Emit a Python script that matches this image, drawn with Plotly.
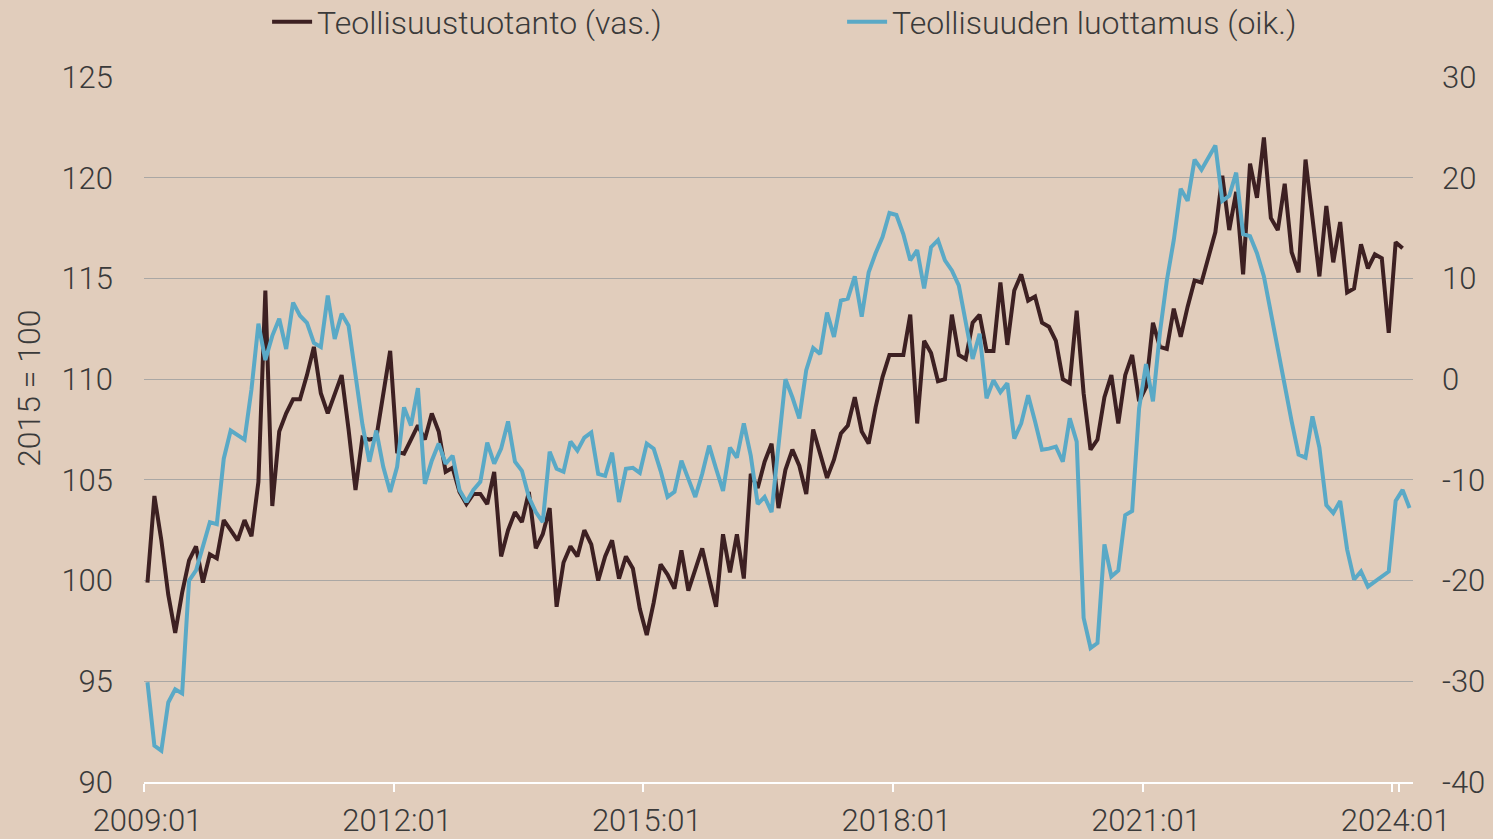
import plotly.graph_objects as go

# ---- categories: monthly, 2009:01 .. 2024:03 ----
first_year = 2009
n_months = 183
months = [f"{first_year + k // 12}:{k % 12 + 1:02d}" for k in range(n_months)]

# Teollisuustuotanto, 2015 = 100 (left axis); last month not yet published
teollisuustuotanto = [
    99.9, 104.2, 102.0, 99.3, 97.4, 99.4, 101.0, 101.7, 99.9, 101.3, 101.1, 103.0,
    102.5, 102.0, 103.0, 102.2, 104.9, 114.4, 103.7, 107.4, 108.3, 109.0, 109.0, 110.2,
    111.6, 109.3, 108.3, 109.3, 110.2, 107.5, 104.5, 107.1, 107.0, 107.1, 109.3, 111.4,
    106.4, 106.3, 107.0, 107.7, 107.0, 108.3, 107.4, 105.4, 105.6, 104.4, 103.8, 104.3,
    104.3, 103.8, 105.4, 101.2, 102.5, 103.4, 102.9, 104.4, 101.6, 102.3, 103.6, 98.7,
    100.9, 101.7, 101.2, 102.5, 101.8, 100.0, 101.2, 102.0, 100.1, 101.2, 100.6, 98.6,
    97.3, 98.9, 100.8, 100.3, 99.6, 101.5, 99.5, 100.5, 101.6, 100.1, 98.7, 102.3,
    100.4, 102.3, 100.1, 105.3, 104.6, 105.9, 106.8, 103.6, 105.5, 106.5, 105.7, 104.3,
    107.5, 106.3, 105.1, 106.0, 107.3, 107.7, 109.1, 107.4, 106.8, 108.6, 110.1, 111.2,
    111.2, 111.2, 113.2, 107.8, 111.9, 111.3, 109.9, 110.0, 113.2, 111.2, 111.0, 112.8,
    113.2, 111.4, 111.4, 114.8, 111.7, 114.4, 115.2, 113.9, 114.1, 112.8, 112.6, 111.9,
    110.0, 109.8, 113.4, 109.3, 106.5, 107.0, 109.1, 110.2, 107.8, 110.2, 111.2, 108.9,
    109.6, 112.8, 111.6, 111.5, 113.5, 112.1, 113.6, 114.9, 114.8, 116.1, 117.3, 120.1,
    117.4, 119.3, 115.2, 120.7, 119.0, 122.0, 118.0, 117.4, 119.7, 116.3, 115.3, 120.9,
    117.9, 115.1, 118.6, 115.8, 117.8, 114.3, 114.5, 116.7, 115.5, 116.2, 116.0, 112.3,
    116.8, 116.5, None,
]

# Teollisuuden luottamus, saldoluku (right axis)
teollisuuden_luottamus = [
    -30.1, -36.4, -36.9, -32.1, -30.8, -31.2, -20.0, -19.0, -16.6, -14.2, -14.4, -7.9,
    -5.1, -5.5, -6.0, -1.0, 5.5, 1.9, 4.3, 6.0, 3.0, 7.6, 6.3, 5.6,
    3.6, 3.2, 8.3, 4.0, 6.5, 5.3, 0.5, -4.5, -8.2, -5.1, -8.7, -11.2,
    -8.7, -2.8, -4.6, -0.9, -10.4, -8.1, -6.4, -8.4, -7.6, -11.0, -12.2, -11.0,
    -10.2, -6.3, -8.4, -6.9, -4.2, -8.2, -9.1, -11.7, -13.2, -14.2, -7.2, -8.9,
    -9.2, -6.2, -7.1, -5.8, -5.3, -9.4, -9.6, -7.3, -12.2, -8.9, -8.8, -9.3,
    -6.4, -6.9, -9.1, -11.7, -11.2, -8.1, -9.9, -11.7, -9.4, -6.6, -8.9, -11.1,
    -6.8, -7.8, -4.4, -7.6, -12.4, -11.7, -13.2, -7.0, 0.0, -1.8, -3.9, 0.9,
    3.1, 2.5, 6.6, 4.2, 7.8, 8.0, 10.2, 6.2, 10.6, 12.5, 14.1, 16.5,
    16.3, 14.4, 11.8, 12.8, 9.0, 13.1, 13.8, 11.8, 10.8, 9.3, 5.5, 2.0,
    4.5, -1.9, -0.1, -1.3, -0.4, -5.9, -4.4, -1.6, -4.2, -7.0, -6.9, -6.7,
    -8.2, -3.9, -6.2, -23.7, -26.7, -26.2, -16.4, -19.6, -19.0, -13.5, -13.1, -2.9,
    1.5, -2.2, 4.6, 9.8, 13.8, 18.9, 17.7, 21.8, 20.8, 22.0, 23.2, 17.7,
    18.2, 20.5, 14.4, 14.2, 12.5, 10.2, 6.5, 2.9, -0.4, -4.2, -7.5, -7.8,
    -3.7, -6.8, -12.5, -13.3, -12.1, -16.9, -19.9, -19.1, -20.6, -20.1, -19.6, -19.1,
    -12.1, -11.0, -12.8,
]

x_tick_labels = ["2009:01", "2012:01", "2015:01", "2018:01", "2021:01", "2024:01"]
left_ticks = [90, 95, 100, 105, 110, 115, 120, 125]
right_ticks = [-40, -30, -20, -10, 0, 10, 20, 30]
right_tick_labels = ["-40", "-30", "-20", "-10", "0", "10", "20", "30"]
left_title = "2015 = 100"

BG = "#E1CDBC"
BROWN = "#3D2022"
BLUE = "#5AA9C6"
TEXT = "#3A3A3A"
GRID = "#AAA7A4"
FONT = "Roboto"
TICK_SIZE = 31
LABEL_SIZE = 32

fig = go.Figure()
fig.add_trace(go.Scatter(
    x=months, y=teollisuustuotanto, name="Teollisuustuotanto (vas.)",
    mode="lines", line=dict(color=BROWN, width=4), yaxis="y",
))
fig.add_trace(go.Scatter(
    x=months, y=teollisuuden_luottamus, name="Teollisuuden luottamus (oik.)",
    mode="lines", line=dict(color=BLUE, width=4), yaxis="y2",
))

tick_font = dict(size=TICK_SIZE, color=TEXT, family=FONT, weight=300)
label_font = dict(size=LABEL_SIZE, color=TEXT, family=FONT, weight=300)

fig.update_layout(
    width=1493, height=839,
    paper_bgcolor=BG, plot_bgcolor=BG,
    margin=dict(l=144, r=80, t=77, b=57, autoexpand=False),
    font=tick_font,
    showlegend=True,
    legend=dict(
        orientation="h", x=0.097, xanchor="left", y=1.078, yanchor="middle",
        bgcolor="rgba(0,0,0,0)", font=label_font,
        entrywidth=520, entrywidthmode="pixels", itemwidth=40,
    ),
    xaxis=dict(
        type="category", categoryorder="array", categoryarray=months,
        range=[-0.5, n_months - 0.5],
        tickmode="array", tickvals=x_tick_labels, ticktext=x_tick_labels,
        tickson="boundaries", tickangle=0,
        ticks="outside", ticklen=8, tickwidth=1.5, tickcolor="white",
        showline=True, linecolor="white", linewidth=2,
        showgrid=False, zeroline=False, automargin=False,
        tickfont=tick_font,
        ticklabelstandoff=10,
    ),
    yaxis=dict(
        range=[90, 125], tickmode="array", tickvals=left_ticks,
        showgrid=True, gridcolor=GRID, gridwidth=1,
        zeroline=False, showline=False, ticks="", automargin=False,
        tickfont=tick_font,
        ticklabelstandoff=30,
    ),
    yaxis2=dict(
        range=[-40, 30], tickmode="array", tickvals=right_ticks,
        ticktext=right_tick_labels,
        overlaying="y", side="right",
        showgrid=False, zeroline=False, showline=False, ticks="", automargin=False,
        tickfont=tick_font,
        ticklabelstandoff=28,
    ),
    annotations=[dict(
        text=left_title, textangle=-90, font=label_font,
        xref="paper", yref="paper", x=-0.0906, y=0.559,
        xanchor="center", yanchor="middle", showarrow=False,
    )],
)

fig.write_html(
    "out.html",
    config={"displayModeBar": False},
    post_script="document.body.style.margin='0';",
)
